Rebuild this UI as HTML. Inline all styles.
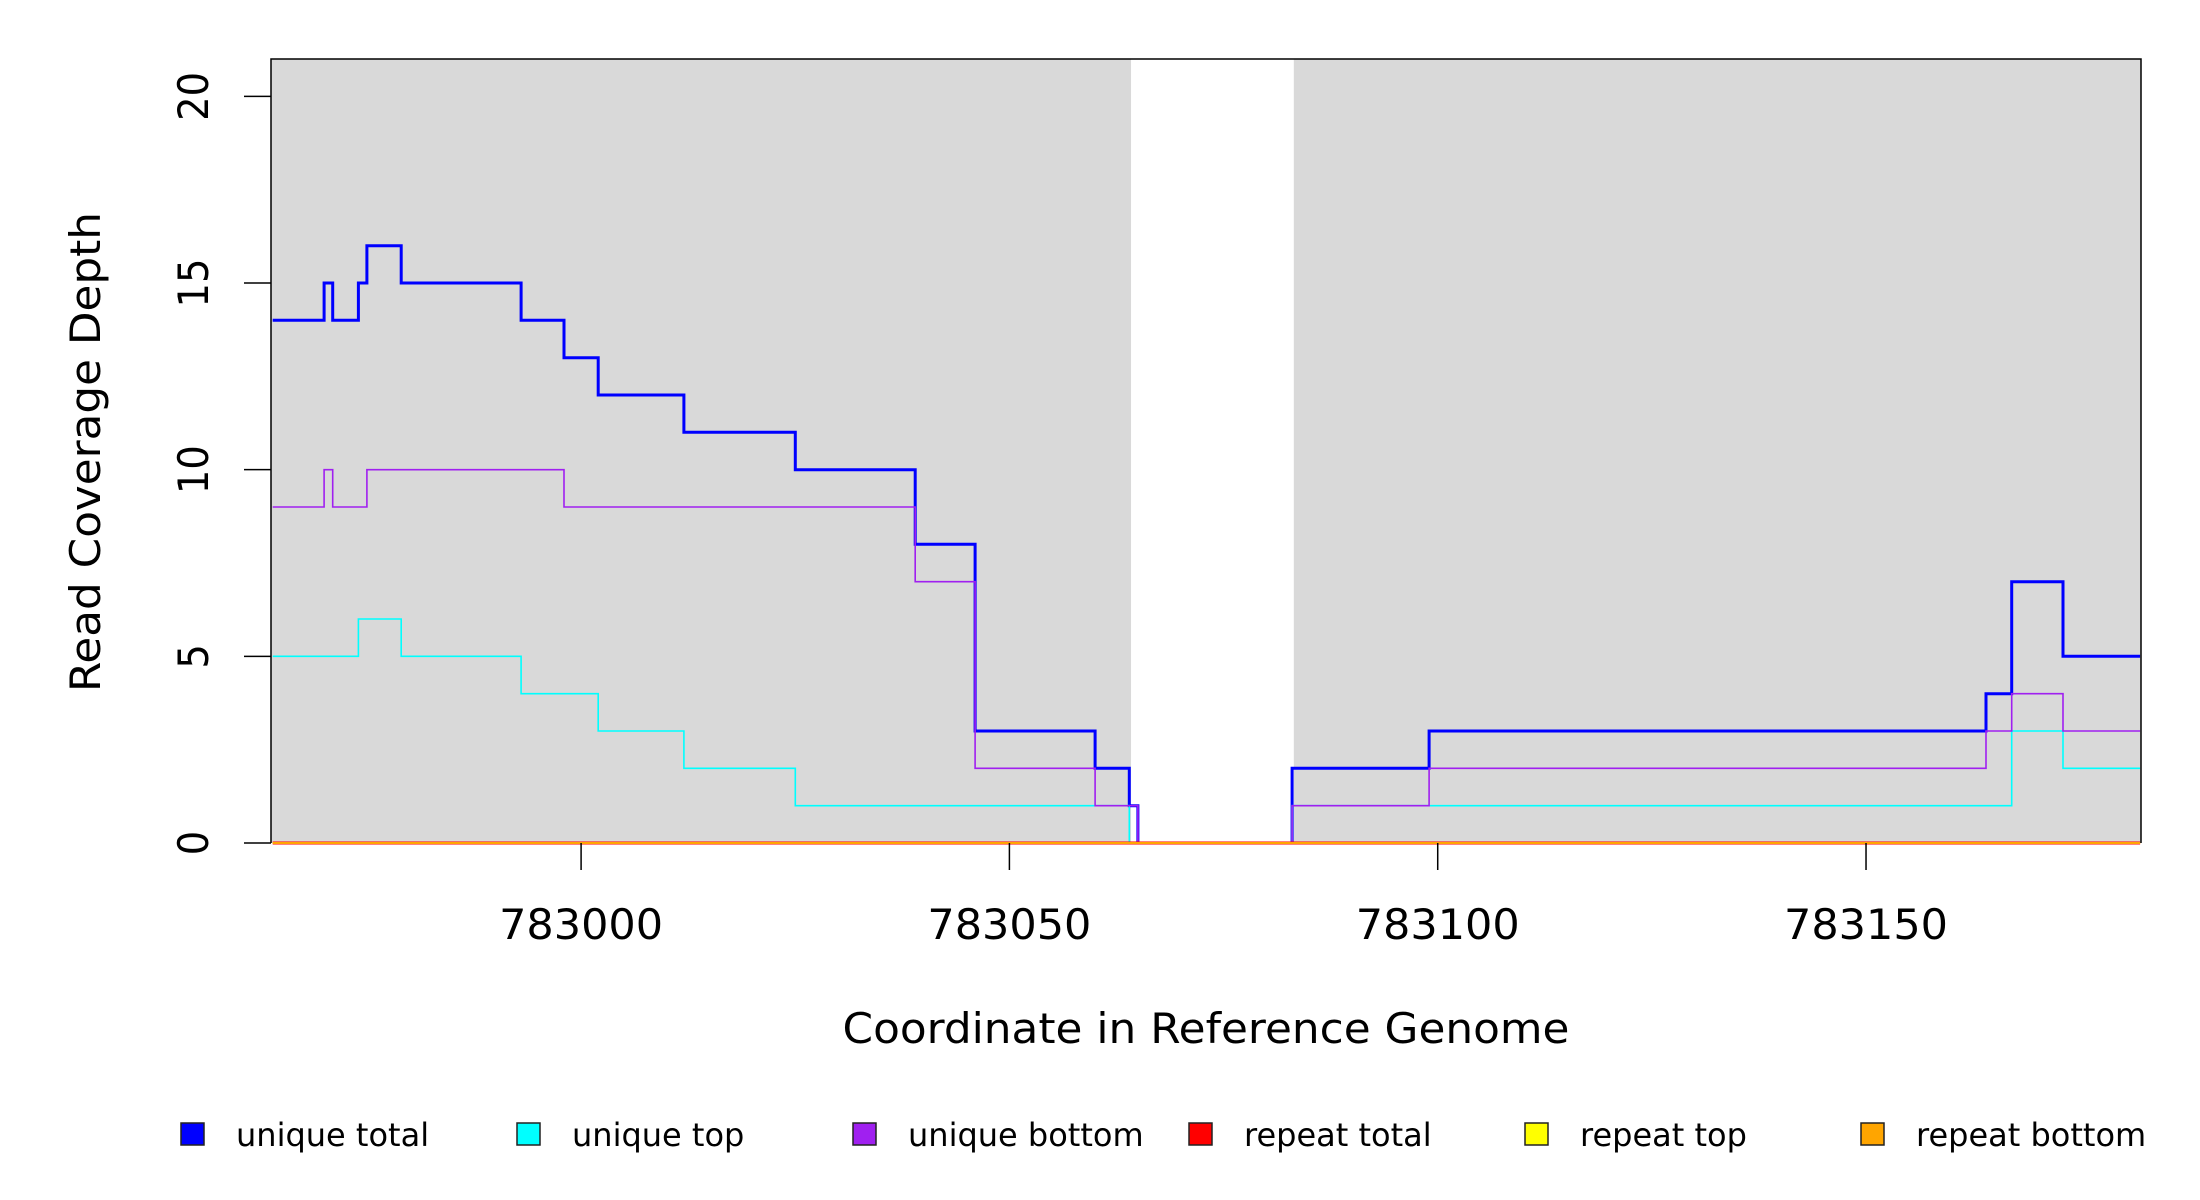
<!DOCTYPE html>
<html><head><meta charset="utf-8">
<style>
html,body{margin:0;padding:0;background:#fff;}
svg{display:block;font-family:"DejaVu Sans","Liberation Sans",sans-serif;}
</style></head>
<body>
<svg id="chart" width="2200" height="1200" viewBox="0 0 2200 1200" xmlns="http://www.w3.org/2000/svg">
<g id="plot"></g>
<g id="axes"></g>
<g id="legend"></g>
</svg>
<script>
// ---- data ----
const stepStarts = [782964, 782970, 782971, 782974, 782975, 782979, 782993, 782998, 783002, 783012, 783025, 783039, 783046, 783060, 783064, 783065, 783083, 783099, 783164, 783167, 783173];
const stepEnd = 783182;
const uniqueTotal  = [14,15,14,15,16,15,14,13,12,11,10,8,3,2,1,0,2,3,4,7,5];
const uniqueTop    = [5,5,5,6,6,5,4,4,3,2,1,1,1,1,0,0,1,1,1,3,2];
const uniqueBottom = [9,10,9,9,10,10,10,9,9,9,9,7,2,1,1,0,1,2,3,4,3];
const repeatTotal  = [0,0,0,0,0,0,0,0,0,0,0,0,0,0,0,0,0,0,0,0,0];
const repeatTop    = [0,0,0,0,0,0,0,0,0,0,0,0,0,0,0,0,0,0,0,0,0];
const repeatBottom = [0,0,0,0,0,0,0,0,0,0,0,0,0,0,0,0,0,0,0,0,0];
const shadedRegions = [[782963.8, 783064.2], [783083.2, 783182.1]];
const xTicks = [783000, 783050, 783100, 783150];
const yTicks = [0, 5, 10, 15, 20];
const legendLabels = ["unique total","unique top","unique bottom","repeat total","repeat top","repeat bottom"];
const legendColors = ["#0000FF","#00FFFF","#A020F0","#FF0000","#FFFF00","#FFA500"];

// ---- scales ----
const X0 = 271, X1 = 2141, Y0 = 843, Y1 = 59;
const xMin = 782963.8, xMax = 783182.1, yMin = 0, yMax = 21;
const sx = v => X0 + (v - xMin) / (xMax - xMin) * (X1 - X0);
const sy = v => Y0 - (v - yMin) / (yMax - yMin) * (Y0 - Y1);
const NS = "http://www.w3.org/2000/svg";
function mk(tag, attrs, parent){ const e=document.createElementNS(NS,tag); for(const k in attrs) e.setAttribute(k,attrs[k]); parent.appendChild(e); return e; }

const plot = document.getElementById('plot');
const axes = document.getElementById('axes');
const legend = document.getElementById('legend');

// shaded background
shadedRegions.forEach((r,i)=>{
  const el = mk('rect',{x:sx(r[0]),y:Y1,width:sx(r[1])-sx(r[0]),height:Y0-Y1,fill:'#D9D9D9'},plot);
  
  
});

function stepPath(vals){
  let d = '';
  for(let i=0;i<vals.length;i++){
    const xa = sx(stepStarts[i]);
    const xb = sx(i+1<stepStarts.length ? stepStarts[i+1] : stepEnd);
    const y = sy(vals[i]);
    d += (i===0 ? 'M' : 'L') + xa.toFixed(1) + ' ' + y.toFixed(1) + ' L' + xb.toFixed(1) + ' ' + y.toFixed(1) + ' ';
  }
  return d;
}
const series = [
  ['unique-total-line', uniqueTotal, '#0000FF', 3],
  ['unique-top-line', uniqueTop, '#00FFFF', 1.6],
  ['unique-bottom-line', uniqueBottom, '#A020F0', 1.6],
  ['repeat-total-line', repeatTotal, '#FF0000', 3],
  ['repeat-top-line', repeatTop, '#FFFF00', 1.6],
  ['repeat-bottom-line', repeatBottom, '#FFA500', 2]
];
series.forEach(s=>{
  const p = mk('path',{d:stepPath(s[1]),fill:'none',stroke:s[2],'stroke-width':s[3]},plot);
  
  
});

// frame (top, left, right)
const frame = mk('path',{d:`M${X0} ${Y0} L${X0} ${Y1} L${X1} ${Y1} L${X1} ${Y0}`,fill:'none',stroke:'#000','stroke-width':1.5},axes);



// y axis ticks
yTicks.forEach(v=>{
  const y = sy(v);
  const t = mk('line',{x1:244,x2:X0,y1:y,y2:y,stroke:'#000','stroke-width':1.5},axes);
  
  
  const s = String(v);
  const lbl = mk('text',{x:0,y:0,'font-size':42,'text-anchor':'middle',transform:`translate(208 ${y}) rotate(-90)`,textLength:s.length*24.5,lengthAdjust:'spacingAndGlyphs'},axes);
  lbl.textContent = s;
  
  
});
// x axis ticks
xTicks.forEach(v=>{
  const x = sx(v);
  const t = mk('line',{x1:x,x2:x,y1:Y0,y2:870,stroke:'#000','stroke-width':1.5},axes);
  
  
  const lbl = mk('text',{x:x,y:939,'font-size':42,'text-anchor':'middle',textLength:164,lengthAdjust:'spacingAndGlyphs'},axes);
  lbl.textContent = String(v);
  
  
});
// axis titles
const xt = mk('text',{x:1206,y:1043,'font-size':42,'text-anchor':'middle',textLength:727,lengthAdjust:'spacingAndGlyphs'},axes);
xt.textContent = 'Coordinate in Reference Genome';


const yt = mk('text',{x:0,y:0,'font-size':42,'text-anchor':'middle',transform:'translate(100 452) rotate(-90)',textLength:480,lengthAdjust:'spacingAndGlyphs'},axes);
yt.textContent = 'Read Coverage Depth';



// legend
legendLabels.forEach((lab,i)=>{
  const bx = 181 + i*336;
  const g = mk('g',{},legend);
  
  
  mk('rect',{x:bx,y:1123,width:23,height:22,fill:legendColors[i],stroke:'#222','stroke-width':1.5},g);
  const tx = mk('text',{x:bx+55,y:1146,'font-size':32},g);
  tx.textContent = lab;
});
</script>
</body></html>
